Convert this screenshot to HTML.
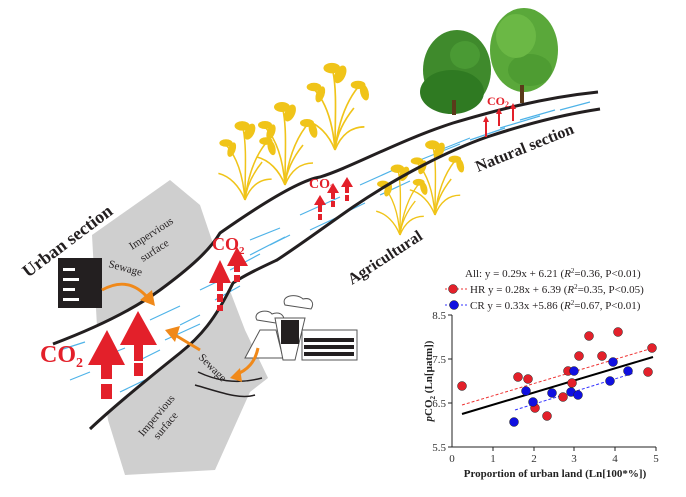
<!DOCTYPE html>
<html><head><meta charset="utf-8"><style>
html,body{margin:0;padding:0;background:#fff;width:686px;height:497px;overflow:hidden}
svg{display:block}
text{font-family:"Liberation Serif",serif}
</style></head><body>
<svg width="686" height="497" viewBox="0 0 686 497" xmlns="http://www.w3.org/2000/svg">
<defs>
<g id="rice">
<g stroke="#f0c419" stroke-width="1.6" fill="none">
<path d="M0,0 C-2,-25 -8,-45 -20,-58"/>
<path d="M0,0 C0,-30 2,-55 -2,-75"/>
<path d="M0,0 C3,-25 10,-45 22,-60"/>
<path d="M0,0 C-6,-15 -16,-25 -28,-28"/>
<path d="M0,0 C6,-15 16,-22 28,-22"/>
<path d="M0,0 C2,-20 14,-35 18,-40"/>
</g>
<g fill="#f0c419">
<ellipse cx="-3" cy="-78" rx="8" ry="5"/><ellipse cx="5" cy="-72" rx="5" ry="9" transform="rotate(25 5 -72)"/>
<ellipse cx="-20" cy="-60" rx="7" ry="4"/><ellipse cx="-14" cy="-53" rx="4" ry="8" transform="rotate(20 -14 -53)"/>
<ellipse cx="22" cy="-62" rx="7" ry="4"/><ellipse cx="28" cy="-55" rx="4" ry="8" transform="rotate(-15 28 -55)"/>
</g>
</g>
</defs>
<polygon points="92,235 170,180 200,205 222,270 245,330 268,378 250,392 215,470 125,475 108,420 98,345" fill="#cfcfcf"/>
<path d="M53,344 C90,330 130,312 160,290 C190,268 210,250 220,233 C260,205 300,180 320,177 C350,168 400,140 453,123 C490,112 540,98 598,92 L600,109 C560,115 520,126 487,137 C450,150 400,175 353,207 C320,230 290,250 277,260 C250,280 235,290 233,283 C215,320 200,337 180,353 C140,385 110,410 90,429 Z" fill="#fff"/>
<g stroke="#4fb3e8" stroke-width="1.2" fill="none">
<path d="M60,350 l25,-8 M95,360 l30,-12 M70,380 l20,-8 M150,320 l30,-14 M165,340 l35,-16 M120,392 l25,-12 M180,325 l20,-10 M230,270 l30,-16 M250,255 l35,-18 M215,300 l25,-14 M270,245 l20,-10 M300,215 l40,-18 M310,230 l30,-14 M340,215 l25,-12 M360,185 l40,-18 M380,195 l30,-14 M420,160 l40,-16 M440,150 l30,-12 M470,140 l35,-12 M500,128 l40,-12 M520,120 l35,-10 M560,110 l30,-8 M250,240 l30,-12 M200,290 l25,-12 M140,360 l20,-10"/>
</g>
<use href="#rice" transform="translate(245,200) scale(0.95)"/>
<use href="#rice" transform="translate(285,185)"/>
<use href="#rice" transform="translate(335,150) scale(1.05)"/>
<use href="#rice" transform="translate(400,235) scale(0.85)"/>
<use href="#rice" transform="translate(435,215) scale(0.9)"/>
<path d="M53,344 C90,330 130,312 160,290 C190,268 210,250 220,233 C260,205 300,180 320,177 C350,168 400,140 453,123 C490,112 540,98 598,92" stroke="#231f20" stroke-width="3" fill="none"/>
<path d="M90,429 C110,410 140,385 180,353 C200,337 215,320 233,283 C245,275 260,268 277,260 C300,245 320,230 353,207 C400,175 450,150 487,137 C520,126 560,115 600,109" stroke="#231f20" stroke-width="3" fill="none"/>
<path d="M198,372 C215,380 235,385 262,378" stroke="#231f20" stroke-width="1.5" fill="none"/>
<path d="M195,385 C220,392 240,400 255,395" stroke="#231f20" stroke-width="1.5" fill="none"/>
<ellipse cx="457" cy="70" rx="34" ry="40" fill="#3f8a2c"/>
<ellipse cx="452" cy="92" rx="32" ry="22" fill="#2f7a22"/>
<ellipse cx="465" cy="55" rx="15" ry="14" fill="#4a9a34"/>
<rect x="452" y="100" width="4" height="15" fill="#5a3a1a"/>
<ellipse cx="524" cy="50" rx="34" ry="42" fill="#5aa83a"/>
<ellipse cx="530" cy="70" rx="22" ry="16" fill="#4e9c32"/>
<ellipse cx="516" cy="36" rx="20" ry="22" fill="#6bb845"/>
<rect x="520" y="85" width="4" height="18" fill="#5a3a1a"/>
<rect x="58" y="258" width="44" height="50" fill="#231f20"/>
<g fill="#fff"><rect x="63" y="268" width="12" height="3"/><rect x="63" y="278" width="16" height="3"/><rect x="63" y="288" width="12" height="3"/><rect x="63" y="298" width="16" height="3"/></g>
<g stroke="#555" stroke-width="1" fill="#fff">
<path d="M260,330 L245,358 L283,358 L276,330 Z"/>
<path d="M257,320 c-5,-8 10,-12 15,-6 c10,-4 15,5 10,10 Z"/>
<path d="M283,360 L275,318 L305,318 L295,360 Z"/>
<path d="M285,305 c-5,-10 12,-12 18,-6 c8,-2 12,4 8,10 Z"/>
<rect x="302" y="330" width="55" height="30"/>
</g>
<g fill="#231f20"><rect x="281" y="320" width="18" height="24"/><rect x="304" y="338" width="50" height="4"/><rect x="304" y="345" width="50" height="4"/><rect x="304" y="352" width="50" height="4"/></g>
<g stroke="#f0891a" stroke-width="3" fill="none">
<path d="M102,290 C120,280 135,283 148,298"/>
<path d="M200,350 L175,335"/>
<path d="M258,348 C255,362 248,370 235,375"/>
</g>
<g fill="#f0891a">
<polygon points="155,306 140,300 152,290"/>
<polygon points="165,330 180,326 175,342"/>
<polygon points="230,378 240,368 242,382"/>
</g>
<g fill="#e3202a">
<polygon points="107,330 88,365 125,365"/><rect x="101" y="365" width="11" height="14"/><rect x="101" y="384" width="11" height="15"/>
<polygon points="138,311 120,345 157,345"/><rect x="134" y="345" width="9" height="16"/><rect x="134" y="363" width="9" height="13"/>
<polygon points="220,260 209,283 231,283"/><rect x="217" y="283" width="6" height="8"/><rect x="217" y="294" width="6" height="8"/><rect x="217" y="305" width="6" height="6"/>
<polygon points="237,247 227,266 248,266"/><rect x="234" y="266" width="6" height="6"/><rect x="234" y="275" width="6" height="7"/>
<polygon points="320,195 314,205 326,205"/><rect x="318" y="205" width="4" height="7"/><rect x="318" y="214" width="4" height="6"/>
<polygon points="333,183 327,193 339,193"/><rect x="331" y="193" width="4" height="6"/><rect x="331" y="201" width="4" height="6"/>
<polygon points="347,177 341,187 353,187"/><rect x="345" y="187" width="4" height="6"/><rect x="345" y="195" width="4" height="6"/>
<polygon points="486,116 483,122 489,122"/><rect x="485" y="122" width="2" height="15"/>
<polygon points="499,108 496,114 502,114"/><rect x="498" y="114" width="2" height="12"/>
<polygon points="513,103 510,109 516,109"/><rect x="512" y="109" width="2" height="12"/>
</g>
<g fill="#e3202a" font-weight="bold">
<text x="40" y="362" font-size="24">CO<tspan font-size="14" dy="5">2</tspan></text>
<text x="212" y="250" font-size="18">CO<tspan font-size="11" dy="4">2</tspan></text>
<text x="309" y="188" font-size="14">CO<tspan font-size="9" dy="3">2</tspan></text>
<text x="487" y="105" font-size="12">CO<tspan font-size="8" dy="2">2</tspan></text>
</g>
<g fill="#231f20" font-weight="bold">
<text x="0" y="0" font-size="18" transform="translate(28,278) rotate(-37)">Urban section</text>
<text x="0" y="0" font-size="16" transform="translate(478,172) rotate(-22)">Natural section</text>
<text x="0" y="0" font-size="16" transform="translate(352,285) rotate(-33)">Agricultural</text>
<text x="0" y="0" font-size="11" font-weight="normal" transform="translate(132,250) rotate(-33)">Impervious</text>
<text x="0" y="0" font-size="11" font-weight="normal" transform="translate(143,262) rotate(-33)">surface</text>
<text x="0" y="0" font-size="11" font-weight="normal" transform="translate(108,267) rotate(15)">Sewage</text>
<text x="0" y="0" font-size="11" font-weight="normal" transform="translate(198,358) rotate(45)">Sewage</text>
<text x="0" y="0" font-size="11" font-weight="normal" transform="translate(143,437) rotate(-50)">Impervious</text>
<text x="0" y="0" font-size="11" font-weight="normal" transform="translate(158,440) rotate(-50)">surface</text>
</g>
<g font-size="11" fill="#231f20">
<text x="465" y="277">All: y = 0.29x + 6.21 (<tspan font-style="italic">R</tspan><tspan font-size="7" dy="-4">2</tspan><tspan dy="4">=0.36, P&lt;0.01)</tspan></text>
<text x="470" y="293">HR y = 0.28x + 6.39 (<tspan font-style="italic">R</tspan><tspan font-size="7" dy="-4">2</tspan><tspan dy="4">=0.35, P&lt;0.05)</tspan></text>
<text x="470" y="309">CR y = 0.33x +5.86 (<tspan font-style="italic">R</tspan><tspan font-size="7" dy="-4">2</tspan><tspan dy="4">=0.67, P&lt;0.01)</tspan></text>
</g>
<line x1="445" y1="289" x2="468" y2="289" stroke="#e33" stroke-dasharray="2,2"/>
<circle cx="453" cy="289" r="4.5" fill="#e3202a" stroke="#222" stroke-width="0.5"/>
<line x1="445" y1="305" x2="468" y2="305" stroke="#33f" stroke-dasharray="2,2"/>
<circle cx="454" cy="305" r="4.5" fill="#1010e0" stroke="#222" stroke-width="0.5"/>
<path d="M452,315 L452,447 L656,447" stroke="#222" fill="none" stroke-width="1"/>
<g stroke="#222"><line x1="448" y1="315" x2="452" y2="315"/><line x1="448" y1="359" x2="452" y2="359"/><line x1="448" y1="403" x2="452" y2="403"/><line x1="448" y1="447" x2="452" y2="447"/>
<line x1="493" y1="447" x2="493" y2="451"/><line x1="534" y1="447" x2="534" y2="451"/><line x1="574" y1="447" x2="574" y2="451"/><line x1="615" y1="447" x2="615" y2="451"/><line x1="656" y1="447" x2="656" y2="451"/></g>
<g font-size="11" fill="#333" text-anchor="end"><text x="446" y="319">8.5</text><text x="446" y="363">7.5</text><text x="446" y="407">6.5</text><text x="446" y="451">5.5</text></g>
<g font-size="11" fill="#333" text-anchor="middle"><text x="452" y="462">0</text><text x="493" y="462">1</text><text x="534" y="462">2</text><text x="574" y="462">3</text><text x="615" y="462">4</text><text x="656" y="462">5</text></g>
<text x="555" y="477" font-size="11" font-weight="bold" text-anchor="middle" fill="#222">Proportion of urban land (Ln[100*%])</text>
<text x="0" y="0" font-size="11" font-weight="bold" text-anchor="middle" fill="#222" transform="translate(432,381) rotate(-90)"><tspan font-style="italic">p</tspan>CO<tspan font-size="7" dy="3">2</tspan><tspan dy="-3"> (Ln[μatm])</tspan></text>
<line x1="462" y1="405" x2="653" y2="348" stroke="#e33" stroke-dasharray="3,2"/>
<line x1="515" y1="410" x2="634" y2="373" stroke="#33f" stroke-dasharray="3,2"/>
<line x1="462" y1="414" x2="653" y2="357" stroke="#000" stroke-width="2"/>
<g fill="#e3202a" stroke="#222" stroke-width="0.5">
<circle cx="462" cy="386" r="4.5"/><circle cx="518" cy="377" r="4.5"/><circle cx="528" cy="379" r="4.5"/><circle cx="535" cy="408" r="4.5"/><circle cx="547" cy="416" r="4.5"/><circle cx="563" cy="397" r="4.5"/><circle cx="568" cy="371" r="4.5"/><circle cx="572" cy="383" r="4.5"/><circle cx="579" cy="356" r="4.5"/><circle cx="589" cy="336" r="4.5"/><circle cx="602" cy="356" r="4.5"/><circle cx="618" cy="332" r="4.5"/><circle cx="648" cy="372" r="4.5"/><circle cx="652" cy="348" r="4.5"/>
</g>
<g fill="#1010e0" stroke="#222" stroke-width="0.5">
<circle cx="514" cy="422" r="4.5"/><circle cx="526" cy="391" r="4.5"/><circle cx="533" cy="402" r="4.5"/><circle cx="552" cy="393" r="4.5"/><circle cx="571" cy="392" r="4.5"/><circle cx="574" cy="371" r="4.5"/><circle cx="578" cy="395" r="4.5"/><circle cx="610" cy="381" r="4.5"/><circle cx="613" cy="362" r="4.5"/><circle cx="628" cy="371" r="4.5"/>
</g>
</svg>
</body></html>
